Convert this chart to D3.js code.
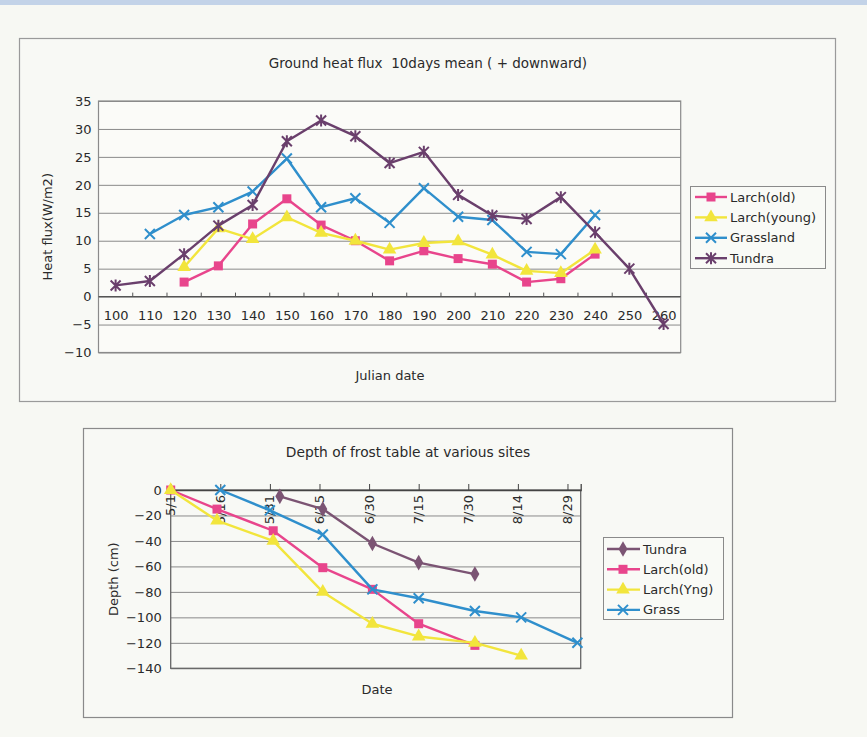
<!DOCTYPE html>
<html><head><meta charset="utf-8">
<script src="https://cdn.jsdelivr.net/npm/d3@7"></script>
<style>
html,body{margin:0;padding:0;background:#f7f8f3;}
svg{display:block;}
text{font-family:"DejaVu Sans","Liberation Sans",Arial,sans-serif;fill:#2a2a2a;white-space:pre;}
</style></head><body>
<script>
// ---------- Chart 1 data ----------
const julianDays = ["100","110","120","130","140","150","160","170","180","190","200","210","220","230","240","250","260"];
const larchOld   = [null,null,2.6,5.5,13.0,17.5,12.8,10.0,6.4,8.2,6.8,5.8,2.6,3.2,7.6,null,null];
const larchYoung = [null,null,5.3,12.2,10.3,14.2,11.4,10.0,8.4,9.6,9.9,7.5,4.6,4.2,8.4,null,null];
const grassland  = [null,11.2,14.6,16.0,18.8,24.7,16.0,17.6,13.2,19.4,14.3,13.7,8.0,7.6,14.6,null,null];
const tundra     = [2.0,2.8,7.6,12.7,16.4,27.8,31.5,28.7,23.9,25.9,18.2,14.5,13.9,17.8,11.5,5.0,-4.9];
const fluxTicks  = [-10,-5,0,5,10,15,20,25,30,35];

// ---------- Chart 2 data ----------
const frostTickDates = ["5/1","5/16","5/31","6/15","6/30","7/15","7/30","8/14","8/29"];
const tundraDates = ["6/3","6/16","7/1","7/15","8/1"];
const tundraDepth = [-5,-15,-42,-57,-66];
const larchOldDates = ["5/1","5/15","6/1","6/16","7/1","7/15","8/1"];
const larchOldDepth = [0,-15,-32,-61,-78,-105,-122];
const larchYngDates = ["5/1","5/15","6/1","6/16","7/1","7/15","8/1","8/15"];
const larchYngDepth = [0,-24,-40,-80,-105,-115,-120,-130];
const grassDates = ["5/16","5/31","6/16","7/1","7/15","8/1","8/15","9/1"];
const grassDepth = [0,-16,-35,-78,-85,-95,-100,-120];
const depthTicks = [0,-20,-40,-60,-80,-100,-120,-140];

const C = {pink:"#e8458c", yellow:"#f2e53c", blue:"#2f8fcc", purple:"#6a3f6c", mauve:"#7b5473"};

const W=867,H=737;
const svg=d3.select("body").append("svg").attr("width",W).attr("height",H);
svg.append("rect").attr("width",W).attr("height",H).attr("fill","#f7f8f3");
svg.append("rect").attr("width",W).attr("height",5).attr("fill","#c3d3e8");

function marker(g, type, x, y, color, s){
  if(type==="square"){
    g.append("rect").attr("x",x-s/2).attr("y",y-s/2).attr("width",s).attr("height",s).attr("fill",color);
  } else if(type==="triangle"){
    g.append("path").attr("d",d3.symbol(d3.symbolTriangle, s*s*0.8)()).attr("transform",`translate(${x},${y})`).attr("fill",color);
  } else if(type==="diamond"){
    g.append("path").attr("d",d3.symbol(d3.symbolDiamond, s*s*0.7)()).attr("transform",`translate(${x},${y})`).attr("fill",color);
  } else if(type==="x"){
    const h=s/2;
    g.append("path").attr("d",`M${x-h},${y-h}L${x+h},${y+h}M${x-h},${y+h}L${x+h},${y-h}`).attr("stroke",color).attr("stroke-width",2).attr("fill","none");
  } else if(type==="star"){
    const h=s/2;
    g.append("path").attr("d",`M${x-h},${y-h}L${x+h},${y+h}M${x-h},${y+h}L${x+h},${y-h}M${x},${y-h-1}L${x},${y+h+1}`).attr("stroke",color).attr("stroke-width",2).attr("fill","none");
  }
}

// ================= Chart 1 =================
{
  svg.append("rect").attr("x",19.5).attr("y",38.5).attr("width",816).attr("height",363)
    .attr("fill","#f8f9f5").attr("stroke","#9a9a9a").attr("stroke-width",1.2);
  const L=98.5,R=680.7,T=101,B=352.5;
  const x=d3.scalePoint().domain(julianDays).range([L,R]).padding(0.5);
  const y=d3.scaleLinear().domain([-10,35]).range([B,T]);
  const g=svg.append("g");
  g.append("rect").attr("x",L).attr("y",T).attr("width",R-L).attr("height",B-T).attr("fill","#fbfbf8");
  g.append("g").attr("transform",`translate(${L},0)`)
    .call(d3.axisLeft(y).tickValues(fluxTicks).tickSize(-(R-L)).tickFormat(""))
    .call(s=>s.select(".domain").remove())
    .call(s=>s.selectAll("line").attr("stroke","#8a8a8a").attr("stroke-width",1));
  g.append("rect").attr("x",L).attr("y",T).attr("width",R-L).attr("height",B-T).attr("fill","none").attr("stroke","#8a8a8a").attr("stroke-width",1.2);
  g.append("g").attr("transform",`translate(${L},0)`)
    .call(d3.axisLeft(y).tickValues(fluxTicks).tickSize(0).tickPadding(7).tickFormat(d=>d<0?"\u2212"+(-d):d))
    .call(s=>s.select(".domain").remove())
    .call(s=>s.selectAll("text").attr("font-size",13).attr("fill","#2a2a2a"));
  const y0=y(0);
  g.append("line").attr("x1",L).attr("x2",R).attr("y1",y0).attr("y2",y0).attr("stroke","#555").attr("stroke-width",1.3);
  const step=x.step();
  julianDays.forEach((d,i)=>{ if(i>0) g.append("line").attr("x1",x(d)-step/2).attr("x2",x(d)-step/2).attr("y1",y0).attr("y2",y0-4).attr("stroke","#555"); });
  g.append("g").attr("transform",`translate(0,${y0})`)
    .call(d3.axisBottom(x).tickSize(0).tickPadding(14))
    .call(s=>s.select(".domain").remove())
    .call(s=>s.selectAll("text").attr("font-size",13).attr("fill","#2a2a2a"));
  const series=[
    {name:"Larch(old)",vals:larchOld,color:C.pink,m:"square",s:9},
    {name:"Larch(young)",vals:larchYoung,color:C.yellow,m:"triangle",s:10},
    {name:"Grassland",vals:grassland,color:C.blue,m:"x",s:10},
    {name:"Tundra",vals:tundra,color:C.purple,m:"star",s:10}
  ];
  const line=d3.line().defined(d=>d.v!=null).x(d=>x(d.k)).y(d=>y(d.v));
  series.forEach(se=>{
    const pts=julianDays.map((k,i)=>({k,v:se.vals[i]}));
    g.append("path").datum(pts).attr("d",line).attr("fill","none").attr("stroke",se.color).attr("stroke-width",2.4).attr("stroke-linejoin","round");
    const mg=g.append("g");
    pts.filter(p=>p.v!=null).forEach(p=>marker(mg,se.m,x(p.k),y(p.v),se.color,se.s));
  });
  svg.append("text").attr("x",428).attr("y",68).attr("text-anchor","middle").attr("font-size",13.5).attr("fill","#3a3a3a").text("Ground heat flux  10days mean ( + downward)");
  svg.append("text").attr("x",390).attr("y",380).attr("text-anchor","middle").attr("font-size",13).attr("fill","#3a3a3a").text("Julian date");
  svg.append("text").attr("transform",`translate(52,${(T+B)/2}) rotate(-90)`).attr("text-anchor","middle").attr("font-size",13).attr("fill","#3a3a3a").text("Heat flux(W/m2)");
  const lg=svg.append("g");
  lg.append("rect").attr("x",690.5).attr("y",186.5).attr("width",135).attr("height",82).attr("fill","#f9faf6").attr("stroke","#8a8a8a");
  series.forEach((se,i)=>{
    const yy=197+20.4*i;
    lg.append("line").attr("x1",695).attr("x2",727).attr("y1",yy).attr("y2",yy).attr("stroke",se.color).attr("stroke-width",2.4);
    marker(lg,se.m,711,yy,se.color,se.s);
    lg.append("text").attr("x",730).attr("y",yy+4.5).attr("font-size",13).attr("fill","#2a2a2a").text(se.name);
  });
}

// ================= Chart 2 =================
{
  svg.append("rect").attr("x",83.5).attr("y",428.5).attr("width",649).attr("height",289)
    .attr("fill","#f8f9f5").attr("stroke","#8a8a8a").attr("stroke-width",1.2);
  const L=170.7,R=580.7,T=490,B=668.3;
  const parse=s=>{const [m,d]=s.split("/").map(Number);return new Date(2000,m-1,d);};
  const x=d3.scaleTime().domain([parse("5/1"),new Date(2000,8,2)]).range([L,R]);
  const y=d3.scaleLinear().domain([-140,0]).range([B,T]);
  const g=svg.append("g");
  g.append("g").attr("transform",`translate(${L},0)`)
    .call(d3.axisLeft(y).tickValues(depthTicks).tickSize(-(R-L)).tickFormat(""))
    .call(s=>s.select(".domain").remove())
    .call(s=>s.selectAll("line").attr("stroke","#8a8a8a"));
  g.append("rect").attr("x",L).attr("y",T).attr("width",R-L).attr("height",B-T).attr("fill","none").attr("stroke","#666").attr("stroke-width",1.3);
  g.append("g").attr("transform",`translate(${L},0)`)
    .call(d3.axisLeft(y).tickValues(depthTicks).tickSize(0).tickPadding(9).tickFormat(d=>d<0?"\u2212"+(-d):d))
    .call(s=>s.select(".domain").remove())
    .call(s=>s.selectAll("text").attr("font-size",13).attr("fill","#2a2a2a"));
  const tickDates=frostTickDates.map(parse);
  g.append("g").attr("transform",`translate(0,${T})`)
    .call(d3.axisTop(x).tickValues(tickDates).tickSize(6).tickFormat(""))
    .call(s=>s.select(".domain").attr("stroke","#444").attr("stroke-width",1.3))
    .call(s=>s.selectAll("line").attr("stroke","#444"));
  frostTickDates.forEach((lab,i)=>{
    g.append("text").attr("transform",`translate(${x(tickDates[i])+4.5},${T+5}) rotate(-90)`)
      .attr("text-anchor","end").attr("font-size",13).attr("fill","#2a2a2a").text(lab);
  });
  const series=[
    {name:"Tundra",d:tundraDates,v:tundraDepth,color:C.mauve,m:"diamond",s:10},
    {name:"Larch(old)",d:larchOldDates,v:larchOldDepth,color:C.pink,m:"square",s:9},
    {name:"Larch(Yng)",d:larchYngDates,v:larchYngDepth,color:C.yellow,m:"triangle",s:10},
    {name:"Grass",d:grassDates,v:grassDepth,color:C.blue,m:"x",s:10}
  ];
  const line=d3.line().x(p=>x(p.t)).y(p=>y(p.v));
  series.forEach(se=>{
    const pts=se.d.map((s,i)=>({t:parse(s),v:se.v[i]}));
    g.append("path").datum(pts).attr("d",line).attr("fill","none").attr("stroke",se.color).attr("stroke-width",2.4).attr("stroke-linejoin","round");
    const mg=g.append("g");
    pts.forEach(p=>marker(mg,se.m,x(p.t),y(p.v),se.color,se.s));
  });
  svg.append("text").attr("x",408).attr("y",457).attr("text-anchor","middle").attr("font-size",13.8).attr("fill","#3a3a3a").text("Depth of frost table at various sites");
  svg.append("text").attr("x",377).attr("y",694).attr("text-anchor","middle").attr("font-size",13).attr("fill","#3a3a3a").text("Date");
  svg.append("text").attr("transform",`translate(118,${(T+B)/2}) rotate(-90)`).attr("text-anchor","middle").attr("font-size",13).attr("fill","#3a3a3a").text("Depth (cm)");
  const lg=svg.append("g");
  lg.append("rect").attr("x",603.5).attr("y",537.5).attr("width",120).attr("height",82).attr("fill","#f9faf6").attr("stroke","#8a8a8a");
  series.forEach((se,i)=>{
    const yy=549+20.3*i;
    lg.append("line").attr("x1",607).attr("x2",640).attr("y1",yy).attr("y2",yy).attr("stroke",se.color).attr("stroke-width",2.4);
    marker(lg,se.m,623,yy,se.color,se.s);
    lg.append("text").attr("x",643).attr("y",yy+4.5).attr("font-size",13).attr("fill","#2a2a2a").text(se.name);
  });
}
</script>
</body></html>
